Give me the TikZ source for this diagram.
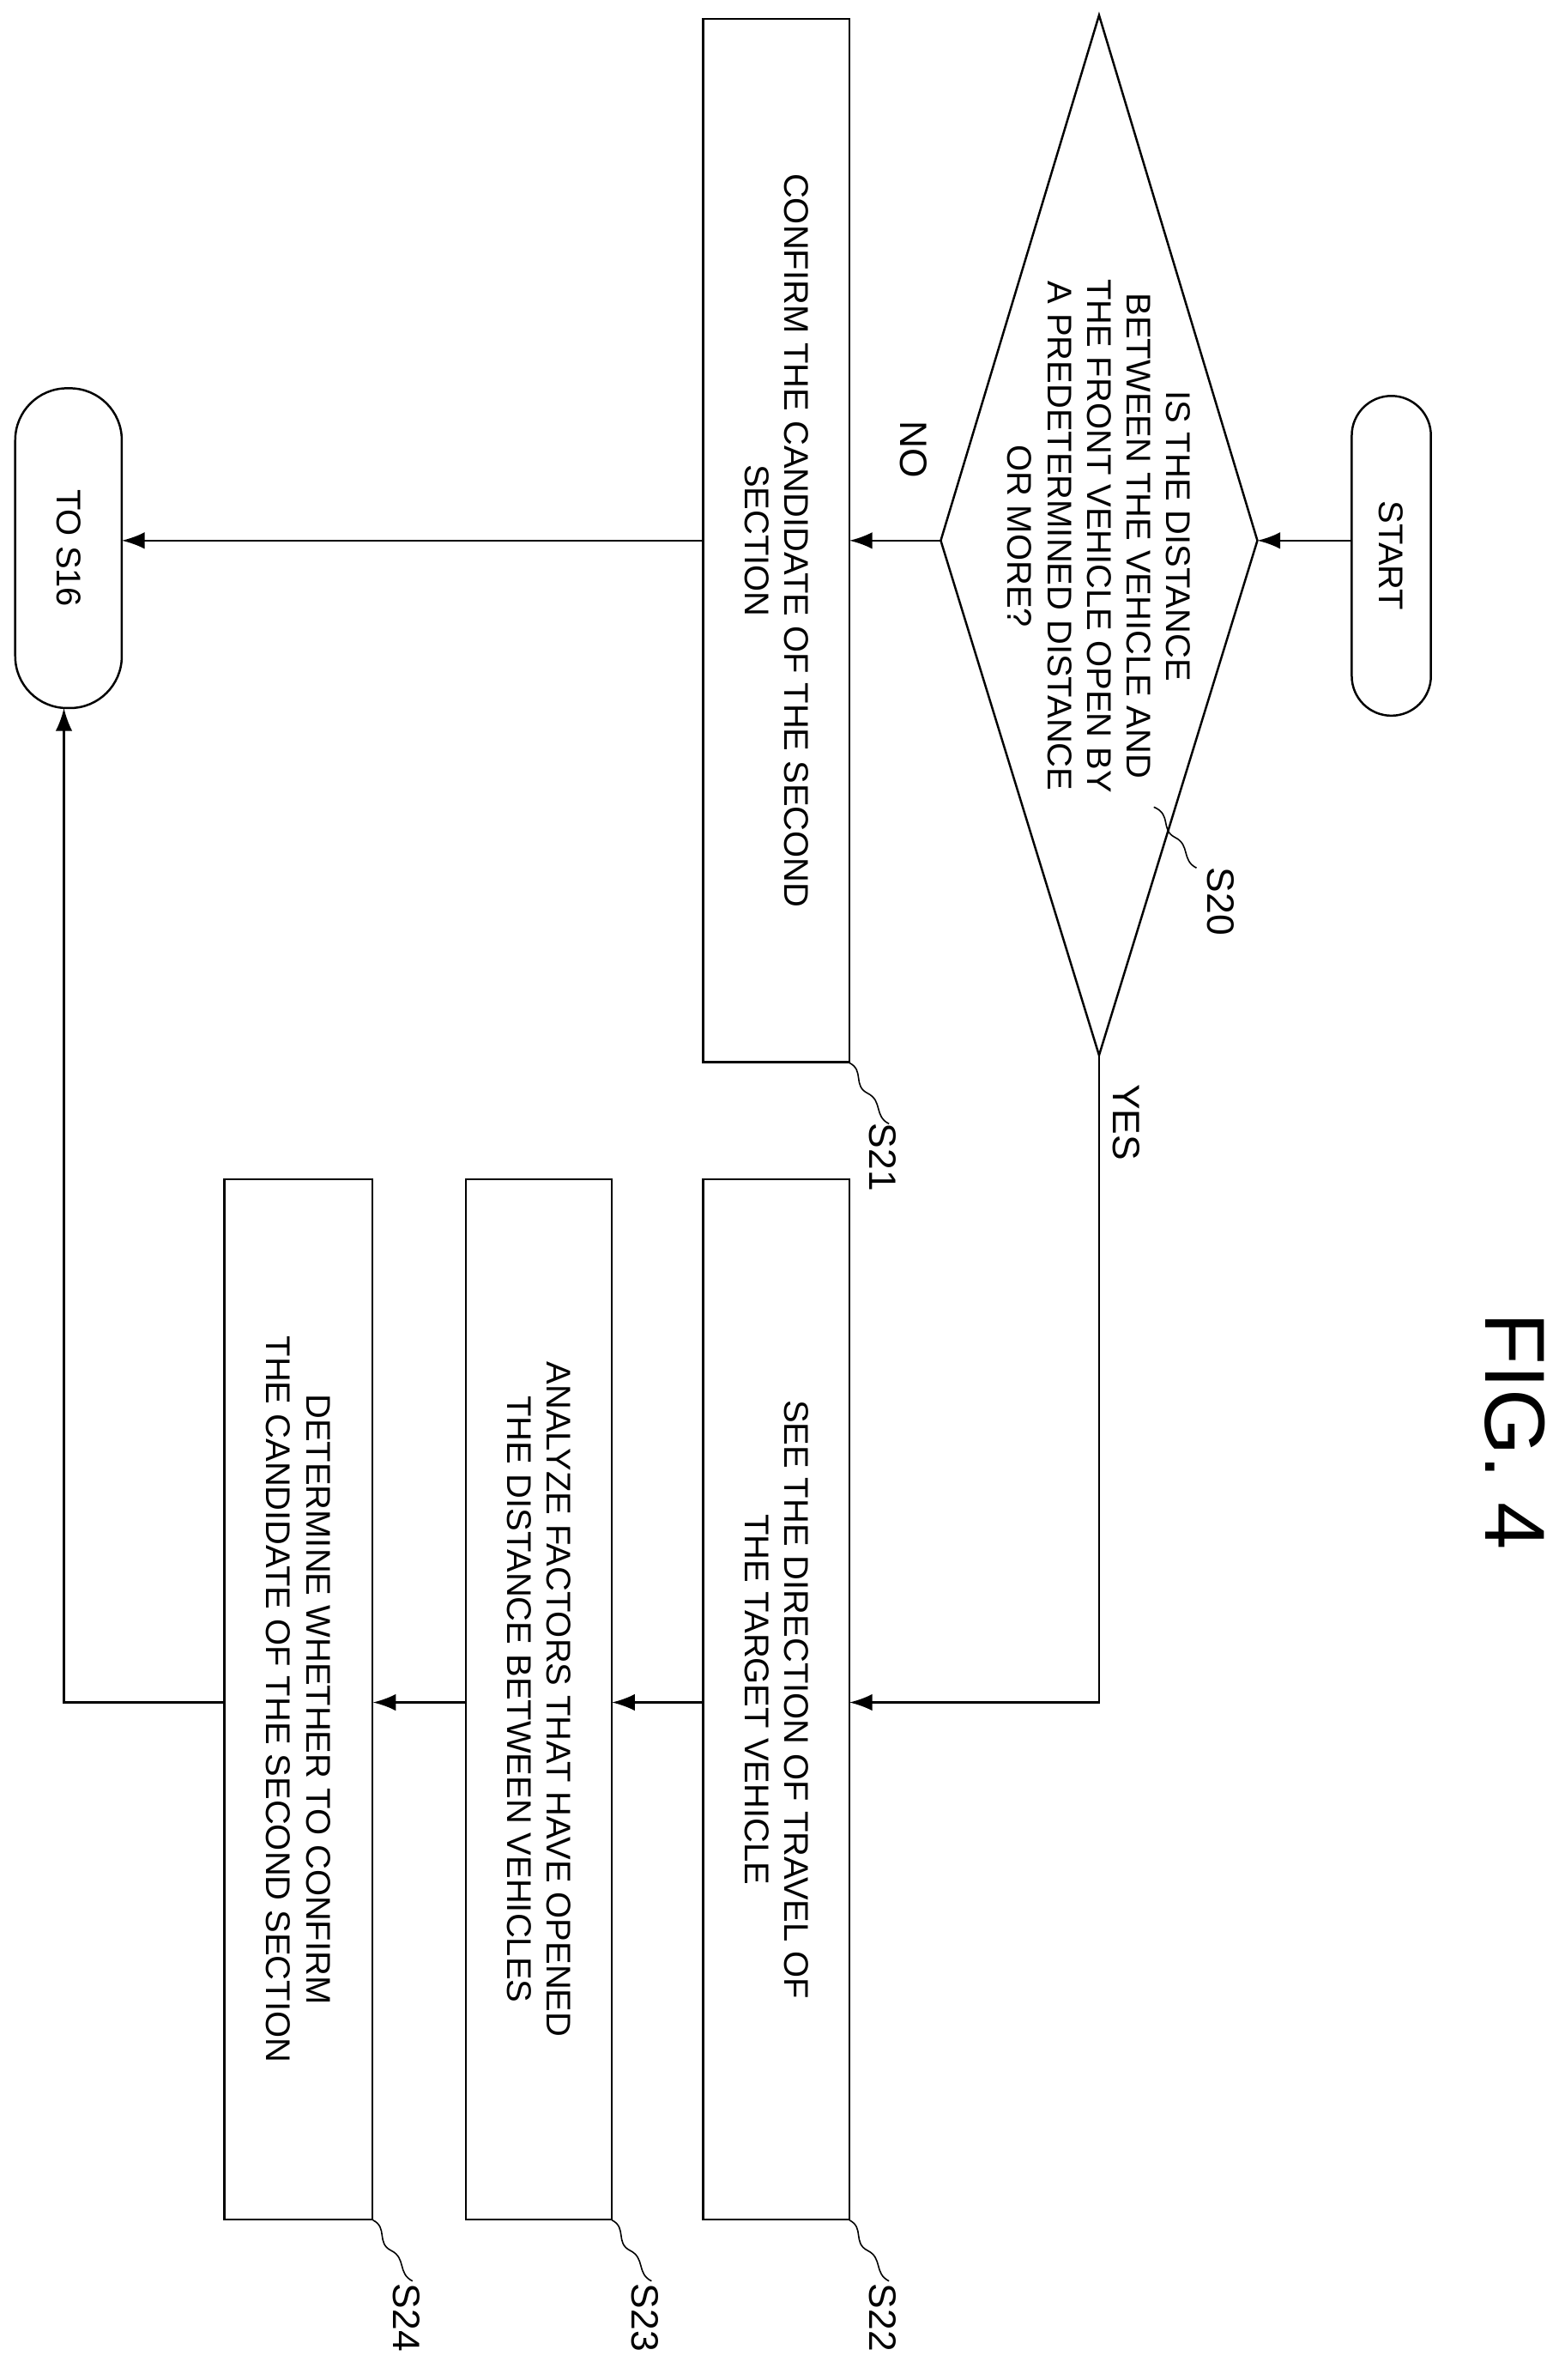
\documentclass[tikz,border=0pt]{standalone}
\usepackage{fontspec}
\setmainfont{Liberation Sans}
\usetikzlibrary{arrows.meta}
\begin{document}
\begin{tikzpicture}[x=1pt,y=-1pt,line width=1.4pt,
  txt/.style={rotate=-90,align=center,font=\fontsize{22.5}{26}\selectfont},
  box/.style={draw,rotate=-90,align=center,font=\fontsize{22.5}{26}\selectfont,inner sep=0pt},
  arr/.style={-{Latex[length=15pt,width=11pt]}},
  lbl/.style={rotate=-90,font=\fontsize{25}{28}\selectfont}]
\useasboundingbox (0,0) rectangle (1024,1563);
% START
\node[draw,rounded corners=26pt,minimum width=210pt,minimum height=52pt,txt] (start) at (914,365) {START};
\coordinate (sl) at (888,355);
% diamond
\coordinate (dt) at (722,10); \coordinate (dr) at (826,355);
\coordinate (db) at (722,693); \coordinate (dl) at (618,355);
\draw (dt)--(dr)--(db)--(dl)--cycle;
\node[txt] (d) at (722,352) {IS THE DISTANCE\\BETWEEN THE VEHICLE AND\\THE FRONT VEHICLE OPEN BY\\A PREDETERMINED DISTANCE\\OR MORE?};
% boxes
\node[box,minimum width=685pt,minimum height=96pt] (s21) at (510,355) {CONFIRM THE CANDIDATE OF THE SECOND\\SECTION};
\node[box,minimum width=683pt,minimum height=96pt] (s22) at (510,1116) {SEE THE DIRECTION OF TRAVEL OF\\THE TARGET VEHICLE};
\node[box,minimum width=683pt,minimum height=96pt] (s23) at (354,1116) {ANALYZE FACTORS THAT HAVE OPENED\\THE DISTANCE BETWEEN VEHICLES};
\node[box,minimum width=683pt,minimum height=97pt] (s24) at (196,1116) {DETERMINE WHETHER TO CONFIRM\\THE CANDIDATE OF THE SECOND SECTION};
\node[draw,rounded corners=34pt,minimum width=210pt,minimum height=70pt,txt] (end) at (45,360) {TO S16};
% connectors
\draw[arr] (sl) -- (dr);
\draw[arr] (dl) -- (558,355);
\draw[arr] (462,355) -- (80,355);
\draw[arr] (db) -- (722,1118) -- (558,1118);
\draw[arr] (462,1118) -- (402,1118);
\draw[arr] (306,1118) -- (245,1118);
\draw[arr] (148,1118) -- (42,1118) -- (42,465);
\node[lbl] at (600,295) {NO};
\node[lbl] at (740,737) {YES};
% step labels
\draw[line width=0.9pt] (758,530) .. controls (770,535) and (762,545) .. (772,550) .. controls (782,555) and (776,565) .. (786,570);
\node[lbl] at (802,592) {S20};
\foreach \x/\t in {558/S21} {
\draw[line width=0.9pt] (\x,698) .. controls (\x+10,703) and (\x+2,713) .. (\x+12,718) .. controls (\x+22,723) and (\x+16,733) .. (\x+26,738);
\node[lbl] at (\x+22,760) {\t};}
\foreach \x/\t in {558/S22,402/S23,245/S24} {
\draw[line width=0.9pt] (\x,1458) .. controls (\x+10,1463) and (\x+2,1473) .. (\x+12,1478) .. controls (\x+22,1483) and (\x+16,1493) .. (\x+26,1498);
\node[lbl] at (\x+22,1522) {\t};}
\node[rotate=-90,font=\fontsize{56}{60}\selectfont] at (995,940) {FIG. 4};
\end{tikzpicture}
\end{document}
